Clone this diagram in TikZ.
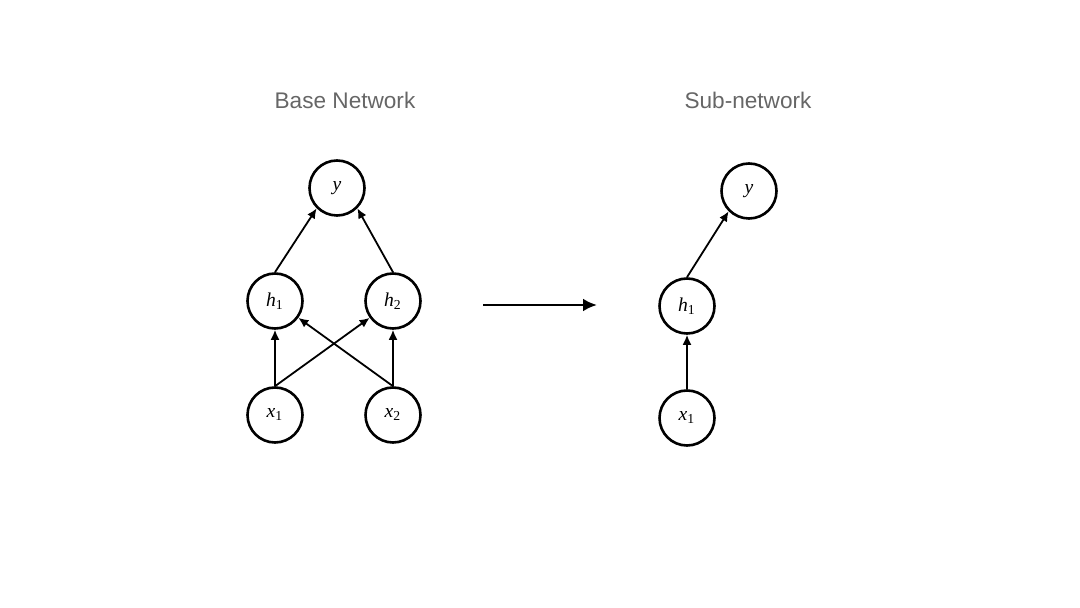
\documentclass[tikz,border=0pt]{standalone}
\usepackage{fontspec}
\setmainfont{Liberation Serif}
\newfontfamily\titlefont{Liberation Sans}
\usetikzlibrary{arrows.meta}
\definecolor{titlegray}{HTML}{666666}
\begin{document}
\begin{tikzpicture}[x=0.5pt,y=-0.5pt,
  neuron/.style={circle,draw,line width=1.3pt,minimum size=27.5pt,inner sep=0pt,font=\fontsize{9.8}{11}\selectfont},
  edge/.style={line width=0.9pt,-{Latex[length=5pt,width=4.5pt]}},
  bigarrow/.style={line width=1.4pt,-{Latex[length=7pt,width=6.5pt]}},
  title/.style={font=\titlefont\fontsize{11.3}{13}\selectfont,text=titlegray}]
\useasboundingbox (0,0) rectangle (1080,608);
\node[title] (t1) at (345,100) {Base Network};
\node[title] (t2) at (748,100) {Sub-network};
% base network
\node[neuron] (y) at (337,188) {\textit{y}};
\node[neuron] (h1) at (275,301) {\textit{h}\textsubscript{1}};
\node[neuron] (h2) at (393,301) {\textit{h}\textsubscript{2}};
\node[neuron] (x1) at (275,415) {\textit{x}\textsubscript{1}};
\node[neuron] (x2) at (393,415) {\textit{x}\textsubscript{2}};
\draw[edge] (h1.north) -- (y.225);
\draw[edge] (h2.north) -- (y.-45);
\draw[edge] (x1) -- (h1);
\draw[edge] (x2) -- (h2);
\draw[edge] (x1.north) -- (h2);
\draw[edge] (x2.north) -- (h1);
% arrow
\coordinate (a1) at (483,305);
\coordinate (a2) at (597,305);
\draw[bigarrow] (a1) -- (a2);
% sub-network
\node[neuron] (sy) at (749,191) {\textit{y}};
\node[neuron] (sh1) at (687,306) {\textit{h}\textsubscript{1}};
\node[neuron] (sx1) at (687,418) {\textit{x}\textsubscript{1}};
\draw[edge] (sh1.north) -- (sy.225);
\draw[edge] (sx1) -- (sh1);
\end{tikzpicture}
\end{document}
